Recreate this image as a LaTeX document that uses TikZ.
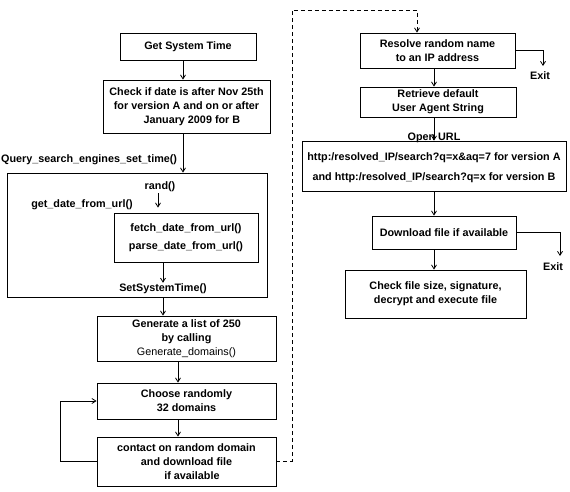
\documentclass[tikz,border=0pt]{standalone}
\usepackage{fontspec}
\setmainfont{Liberation Sans}
\usetikzlibrary{arrows.meta}
\begin{document}
\begin{tikzpicture}[x=1pt,y=-1pt,
  txt/.style={font=\bfseries\fontsize{10.8}{14}\selectfont},
  box/.style={txt,draw,line width=0.8pt,inner sep=0pt,align=center},
  lbl/.style={txt,inner sep=1pt,align=center},
  arr/.style={line width=0.8pt,-{Straight Barb[length=4pt,width=5pt]}},
  dsh/.style={arr,dash pattern=on 4pt off 3pt}]
\useasboundingbox (0,0) rectangle (570,491);
% left column
\node[box,minimum width=136pt,minimum height=27pt] (gst) at (188,46.5) {Get System Time};
\node[box,minimum width=167pt,minimum height=53pt] (chk) at (186.5,106.5) {Check if date is after Nov 25th\\for version A and on or after\\\hspace{1em}January 2009 for B};
\node[lbl,anchor=west] (query) at (0,160) {Query\_search\_engines\_set\_time()};
\node[box,minimum width=260pt,minimum height=124pt] (big) at (137,235) {};
\node[lbl] (rand) at (160,187) {rand()};
\node[lbl] (gdu) at (82,205) {get\_date\_from\_url()};
\node[box,minimum width=144pt,minimum height=49pt,font=\bfseries\fontsize{10.8}{18}\selectfont] (inner) at (186,237.5) {fetch\_date\_from\_url()\\parse\_date\_from\_url()};
\node[lbl] (sst) at (163,289) {SetSystemTime()};
\node[box,minimum width=179pt,minimum height=45pt] (gen) at (186.5,338.5) {Generate a list of 250\\by calling\\{\mdseries Generate\_domains()}};
\node[box,minimum width=179pt,minimum height=36pt] (cho) at (186.5,401) {Choose randomly\\32 domains};
\node[box,minimum width=179pt,minimum height=49pt] (con) at (186.5,461.5) {contact on random domain\\and download file\\\hspace{1em}if available};
% right column
\node[box,minimum width=155pt,minimum height=35pt] (res) at (437.5,50.5) {Resolve random name\\to an IP address};
\node[box,minimum width=156pt,minimum height=30pt] (ret) at (438,102) {Retrieve default\\User Agent String};
\node[box,minimum width=264pt,minimum height=50pt] (url) at (434,166) {};
\node[lbl,font=\bfseries\fontsize{10.8}{20}\selectfont] (urltxt) at (434,158) {Open URL\\http:/resolved\_IP/search?q=x\&aq=7 for version A\\and http:/resolved\_IP/search?q=x for version B};
\node[box,minimum width=144pt,minimum height=33pt] (dl) at (444,232.5) {Download file if available};
\node[box,minimum width=181pt,minimum height=48pt] (chf) at (435.5,294) {Check file size, signature,\\decrypt and execute file};
\node[lbl] (exit1) at (540,76) {Exit};
\node[lbl] (exit2) at (553,267) {Exit};
% helper coordinates
\coordinate (xa) at (183,0);
\coordinate (xb) at (158,0);
\coordinate (xc) at (163,0);
\coordinate (xd) at (178,0);
\coordinate (xr) at (417,0);
\coordinate (xs) at (434,0);
\coordinate (d1) at (292,10);
\coordinate (e1) at (543,66);
\coordinate (e2) at (560,256);
% connectors
\draw[arr] (gst.south -| xa) -- (chk.north -| xa);
\draw[arr] (chk.south -| xa) -- (big.north -| xa);
\draw[arr,shorten >=5pt] (rand.south -| xb) -- (inner.north -| xb);
\draw[arr] (inner.south -| xc) -- (sst.north -| xc);
\draw[arr] (big.south -| xc) -- (gen.north -| xc);
\draw[arr] (gen.south -| xd) -- (cho.north -| xd);
\draw[arr] (cho.south -| xd) -- (con.north -| xd);
\draw[arr] (con.west) -- ++(-36,0) |- (cho.west);
\draw[dsh] (con.east) -| (d1) -| (res.north -| xr);
\draw[arr] (res.east) -| (e1);
\draw[arr] (res.south -| xs) -- (ret.north -| xs);
\draw[arr] (ret.south -| xs) -- (url.north -| xs);
\draw[arr] (url.south -| xs) -- (dl.north -| xs);
\draw[arr] (dl.east) -| (e2);
\draw[arr] (dl.south -| xs) -- (chf.north -| xs);
\end{tikzpicture}
\end{document}
